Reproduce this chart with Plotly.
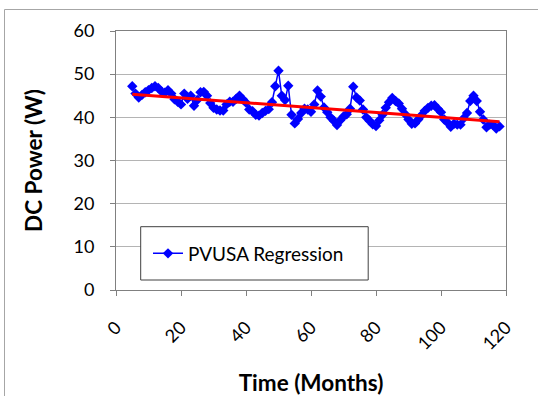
import plotly.graph_objects as go

months = list(range(5, 119))
power = [
    47.2, 45.5, 44.6, 45.2, 45.8, 46.3, 46.8, 47.2, 46.8, 46.0,  # 5-14
    45.7, 46.3, 45.5, 44.2, 43.6, 43.0, 45.5, 44.3, 45.0, 42.7,  # 15-24
    44.0, 45.8, 45.9, 45.0, 43.3, 42.2, 41.8, 41.6, 41.6, 43.0,  # 25-34
    43.6, 43.6, 44.3, 45.0, 44.2, 43.4, 41.8, 41.4, 40.6, 40.4,  # 35-44
    41.0, 41.5, 41.9, 43.5, 47.2, 50.8, 45.0, 44.0, 47.3, 40.6,  # 45-54
    38.6, 39.6, 41.0, 42.0, 41.8, 41.3, 43.0, 46.2, 44.8, 42.3,  # 55-64
    41.2, 40.0, 39.2, 38.2, 39.3, 40.2, 40.7, 42.0, 47.1, 44.6,  # 65-74
    43.9, 41.8, 40.0, 39.2, 38.4, 38.0, 39.3, 40.6, 42.2, 43.5,  # 75-84
    44.5, 43.8, 43.2, 42.0, 40.7, 39.5, 38.5, 38.6, 39.5, 40.5,  # 85-94
    41.5, 42.2, 42.7, 42.8, 42.0, 41.2, 39.5, 38.8, 37.8, 38.5,  # 95-104
    38.3, 38.3, 39.8, 41.0, 43.8, 45.0, 43.8, 41.3, 39.5, 37.7,  # 105-114
    38.3, 38.2, 37.4, 37.9,                                      # 115-118
]
trend_x = [5, 118]
trend_y = [45.35, 39.0]

series_name = "PVUSA Regression"
x_title = "Time (Months)"
y_title = "DC Power (W)"

FONT = "Lato, 'Open Sans', sans-serif"

fig = go.Figure()
fig.add_trace(go.Scatter(
    x=months, y=power, mode="lines+markers", name=series_name,
    line=dict(color="#0000FF", width=1.5),
    marker=dict(symbol="diamond", size=8, color="#0000FF"),
))
fig.add_trace(go.Scatter(
    x=trend_x, y=trend_y, mode="lines", showlegend=False,
    line=dict(color="#FF0000", width=3),
))

PW, PH = 390.0, 259.0
# legend box
fig.add_shape(type="rect", xref="paper", yref="paper",
              x0=(140.7 - 116) / PW, x1=(368.2 - 116) / PW,
              y0=(290 - 280) / PH, y1=(290 - 226.7) / PH,
              fillcolor="white", line=dict(color="#404040", width=1), layer="above")
# outer chart frame
fig.add_shape(type="line", xref="paper", yref="paper",
              x0=(4.5 - 116) / PW, x1=(540 - 116) / PW,
              y0=(290 - 9.5) / PH, y1=(290 - 9.5) / PH,
              line=dict(color="#A6A6A6", width=1))
fig.add_shape(type="line", xref="paper", yref="paper",
              x0=(4.5 - 116) / PW, x1=(4.5 - 116) / PW,
              y0=(290 - 9.5) / PH, y1=(290 - 400) / PH,
              line=dict(color="#A6A6A6", width=1))

fig.update_layout(
    width=538, height=396,
    margin=dict(l=116, r=32, t=31, b=106),
    paper_bgcolor="white", plot_bgcolor="white",
    font=dict(family=FONT, size=18, color="#000000"),
    showlegend=True,
    legend=dict(x=(148 - 116) / PW, y=(290 - 253.5) / PH, xanchor="left", yanchor="middle",
                bgcolor="rgba(0,0,0,0)", borderwidth=0,
                itemwidth=30, font=dict(size=19)),
    xaxis=dict(range=[0, 120], dtick=20, tickangle=-45, automargin=False,
               showgrid=False, zeroline=False,
               showline=True, linecolor="#808080", linewidth=1, mirror=True,
               ticks="outside", ticklen=5, tickcolor="#808080", ticklabelstandoff=14,
               title=dict(text="<b>" + x_title + "</b>", font=dict(size=22.5), standoff=22)),
    yaxis=dict(range=[0, 60], dtick=10, automargin=False,
               showgrid=True, gridcolor="#B4B4B4", gridwidth=1, zeroline=False,
               showline=True, linecolor="#808080", linewidth=1, mirror=True,
               ticks="outside", ticklen=5, tickcolor="#808080", ticklabelstandoff=12,
               title=dict(text="<b>" + y_title + "</b>", font=dict(size=22.5), standoff=24)),
)

fig.write_html("out.html", config={"displayModeBar": False},
               post_script="document.body.style.margin='0px';")
